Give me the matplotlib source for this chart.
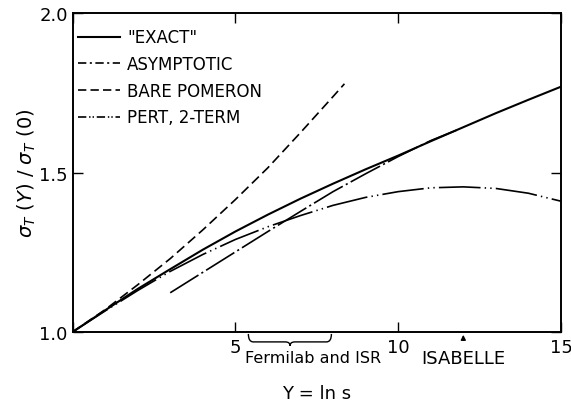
import numpy as np
import matplotlib
matplotlib.use('Agg')
import matplotlib.pyplot as plt
from matplotlib.lines import Line2D
from matplotlib.path import Path
from matplotlib.patches import PathPatch
import matplotlib.transforms as mtransforms

plt.rcParams['font.family'] = 'DejaVu Sans'
plt.rcParams['mathtext.fontset'] = 'dejavusans'
plt.rcParams['lines.scale_dashes'] = False

# curves
exact_x = [0, 1, 2, 3, 4, 5, 6, 7, 8, 9, 10, 11, 12, 13, 14, 15]
exact_y = [1.0, 1.068, 1.135, 1.197, 1.258, 1.315, 1.368, 1.418, 1.465, 1.51,
           1.553, 1.598, 1.642, 1.686, 1.728, 1.769]

asym_x = [3.0, 4, 5, 6, 7, 8, 9, 10, 11, 11.8]
asym_y = [1.123, 1.187, 1.251, 1.315, 1.378, 1.44, 1.496, 1.55, 1.60, 1.633]

bare_x = [0, 1, 2, 3, 4, 5, 6, 7, 8, 8.35]
bare_y = [1.0, 1.07, 1.148, 1.23, 1.32, 1.415, 1.515, 1.625, 1.738, 1.778]

pert_x = [0, 1, 2, 3, 4, 5, 6, 7, 8, 9, 10, 11, 12, 13, 14, 15]
pert_y = [1.0, 1.066, 1.13, 1.19, 1.243, 1.29, 1.33, 1.365, 1.397, 1.422,
          1.44, 1.452, 1.455, 1.45, 1.435, 1.41]

labels = ['"EXACT"', 'ASYMPTOTIC', 'BARE POMERON', 'PERT, 2-TERM']

fig = plt.figure(figsize=(5.71, 4.02), dpi=100)
ax = fig.add_axes([0.127, 0.1716, 0.8555, 0.7936])

ax.plot(exact_x, exact_y, color='k', lw=1.5)
ax.plot(asym_x, asym_y, color='k', lw=1.2, dashes=(24, 2.5, 1.5, 2.5))
ax.plot(bare_x, bare_y, color='k', lw=1.2, dashes=(7, 3.5))
ax.plot(pert_x, pert_y, color='k', lw=1.2, dashes=(30, 3, 1, 3, 1, 3))

ax.set_xlim(0, 15)
ax.set_ylim(1.0, 2.0)
ax.set_xticks([0, 5, 10, 15])
ax.set_xticklabels(['', '5', '10', '15'])
ax.set_yticks([1.0, 1.5, 2.0])
ax.set_yticklabels(['1.0', '1.5', '2.0'])
ax.tick_params(direction='in', length=7, width=1, labelsize=13, top=True, right=True)
ax.tick_params(axis='x', pad=4)
for s in ax.spines.values():
    s.set_linewidth(1.4)

handles = [Line2D([], [], color='k', lw=1.5),
           Line2D([], [], color='k', lw=1.2, dashes=(6, 2.5, 1.5, 2.5)),
           Line2D([], [], color='k', lw=1.2, dashes=(6, 3)),
           Line2D([], [], color='k', lw=1.2, dashes=(6, 2, 1, 1.5, 1, 2))]
ax.legend(handles, labels, loc='upper left', bbox_to_anchor=(0.0045, 0.962),
          frameon=False, fontsize=12, handlelength=2.52, handletextpad=0.42,
          labelspacing=0.52, borderaxespad=0, borderpad=0.2)

ax.set_ylabel(r'$\sigma_T\ (Y)\ /\ \sigma_T\ (0)$', fontsize=14, labelpad=1)
ax.text(0.5, -0.19, 'Y = ln s', transform=ax.transAxes, ha='center', va='center', fontsize=13)
ax.text(7.38, -0.08, 'Fermilab and ISR', transform=ax.get_xaxis_transform(),
        ha='center', va='center', fontsize=11.5)
ax.text(12, -0.08, 'ISABELLE', transform=ax.get_xaxis_transform(),
        ha='center', va='center', fontsize=13)
ax.annotate('', xy=(12, 0.0), xytext=(12, -0.035), xycoords=ax.get_xaxis_transform(),
            textcoords=ax.get_xaxis_transform(),
            arrowprops=dict(arrowstyle='-|>', color='k', lw=1, mutation_scale=7))

# brace under the Fermilab/ISR range
trans = mtransforms.blended_transform_factory(ax.transData, ax.transAxes)
x0, x1, xm = 5.4, 7.95, 6.68
yt, yb, ytip = -0.006, -0.031, -0.043
verts = [(x0, yt), (x0, yb), (x0 + 0.15, yb), (xm - 0.15, yb), (xm, yb), (xm, ytip),
         (xm, yb), (xm + 0.15, yb), (x1 - 0.15, yb), (x1, yb), (x1, yt)]
codes = [Path.MOVETO, Path.CURVE3, Path.CURVE3, Path.LINETO, Path.CURVE3, Path.CURVE3,
         Path.CURVE3, Path.CURVE3, Path.LINETO, Path.CURVE3, Path.CURVE3]
ax.add_patch(PathPatch(Path(verts, codes), fill=False, lw=1, transform=trans, clip_on=False))

fig.savefig('out.png', dpi=100)
